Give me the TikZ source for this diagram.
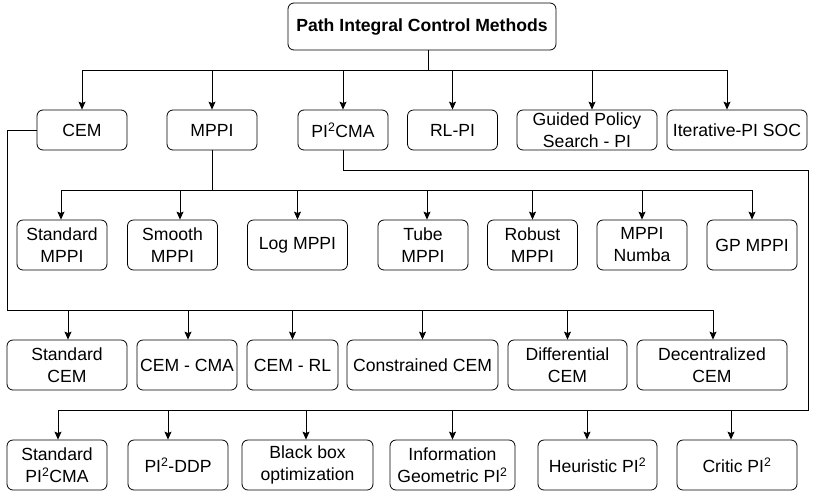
\documentclass[tikz,border=0pt]{standalone}
\usepackage{fontspec}
\setmainfont{Liberation Sans}
\usepackage{tikz}
\usetikzlibrary{arrows.meta}

\tikzset{
  box/.style={draw,line width=.8pt,rounded corners=6pt,align=center,
    inner sep=1pt,minimum height=50pt,font=\fontsize{17.6}{22}\selectfont},
  toprow/.style={box,minimum height=40pt},
  link/.style={line width=.8pt},
  arrow/.style={link,-{Stealth[length=8pt,width=7pt,inset=1.5pt]}}}

\begin{document}
\begin{tikzpicture}[x=1pt,y=-1pt]
  \useasboundingbox (0,0) rectangle (816,491);
  \node[box,minimum width=268pt,minimum height=47pt,
    font=\fontsize{17.6}{22}\selectfont\bfseries] (root) at (422,26.5)
    {Path Integral Control Methods};
  % first level
  \node[toprow,minimum width=90pt] (cem) at (82,130) {CEM};
  \node[toprow,minimum width=90pt] (mppi) at (212,130) {MPPI};
  \node[toprow,minimum width=90pt] (pic) at (343,130) {PI\textsuperscript{2}CMA};
  \node[toprow,minimum width=90pt] (rlpi) at (452.5,130) {RL-PI};
  \node[toprow,minimum width=140pt] (gps) at (587,130) {Guided Policy\\Search - PI};
  \node[toprow,minimum width=140pt] (ipi) at (737,130) {Iterative-PI SOC};
  % MPPI variants
  \node[box,minimum width=90pt] (smppi) at (62,245) {Standard\\MPPI};
  \node[box,minimum width=90pt] (smooth) at (172.5,245) {Smooth\\MPPI};
  \node[box,minimum width=100pt] (logmppi) at (297.5,245) {Log MPPI};
  \node[box,minimum width=90pt] (tube) at (423,245) {Tube\\MPPI};
  \node[box,minimum width=90pt] (robust) at (532.5,245) {Robust\\MPPI};
  \node[box,minimum width=90pt] (numba) at (642,245) {MPPI\\Numba};
  \node[box,minimum width=90pt] (gpmppi) at (752,245) {GP MPPI};
  % CEM variants
  \node[box,minimum width=120pt] (scem) at (67,365) {Standard\\CEM};
  \node[box,minimum width=100pt] (cemcma) at (187,365) {CEM - CMA};
  \node[box,minimum width=91pt] (cemrl) at (292.5,365) {CEM - RL};
  \node[box,minimum width=151pt] (ccem) at (422.5,365) {Constrained CEM};
  \node[box,minimum width=119pt] (difcem) at (567.5,365) {Differential\\CEM};
  \node[box,minimum width=150pt] (deccem) at (712,365) {Decentralized\\CEM};
  % PI2 variants
  \node[box,minimum width=100pt] (spi) at (57,465) {Standard\\PI\textsuperscript{2}CMA};
  \node[box,minimum width=100pt] (pddp) at (178,465) {PI\textsuperscript{2}-DDP};
  \node[box,minimum width=131pt] (bbo) at (307.5,465) {Black box\\optimization};
  \node[box,minimum width=125pt] (igpi) at (452.5,465) {Information\\Geometric PI\textsuperscript{2}};
  \node[box,minimum width=119pt] (hpi) at (597.5,465) {Heuristic PI\textsuperscript{2}};
  \node[box,minimum width=120pt] (cpi) at (737,465) {Critic PI\textsuperscript{2}};

  \coordinate (bus1) at (0,70);
  \coordinate (bus2) at (0,190);
  \coordinate (bus3) at (0,310);
  \coordinate (bus4) at (0,410);
  \coordinate (turn) at (0,170);
  \coordinate (left) at (7,0);
  \coordinate (right) at (808,0);

  \draw[link] ([xshift=6pt]root.south) -- ([xshift=6pt]root.south |- bus1);
  \draw[link] (cem.north |- bus1) -- ([xshift=-10pt]ipi.north |- bus1);
  \foreach \n/\s in {cem/0,mppi/0,pic/0,rlpi/0,gps/5,ipi/-10}
    \draw[arrow] ([xshift=\s pt]\n.north |- bus1) -- ([xshift=\s pt]\n.north);

  \draw[link] (mppi.south) -- (mppi.south |- bus2);
  \draw[link] ([xshift=-1pt]smppi.north |- bus2) -- (gpmppi.north |- bus2);
  \foreach \n/\s in {smppi/-1,smooth/7.5,logmppi/0,tube/4,robust/0,numba/0,gpmppi/0}
    \draw[arrow] ([xshift=\s pt]\n.north |- bus2) -- ([xshift=\s pt]\n.north);

  \draw[link] (cem.west) -| (left |- bus3) -- ([xshift=1pt]deccem.north |- bus3);
  \foreach \n/\s in {scem/1,cemcma/1,cemrl/0,ccem/0,difcem/0,deccem/1}
    \draw[arrow] ([xshift=\s pt]\n.north |- bus3) -- ([xshift=\s pt]\n.north);

  \draw[link] (pic.south) |- (right |- turn) |- ([xshift=1pt]spi.north |- bus4);
  \foreach \n/\s in {spi/1,pddp/-10,bbo/-1.5,igpi/0,hpi/-10.5,cpi/-6}
    \draw[arrow] ([xshift=\s pt]\n.north |- bus4) -- ([xshift=\s pt]\n.north);
\end{tikzpicture}
\end{document}
